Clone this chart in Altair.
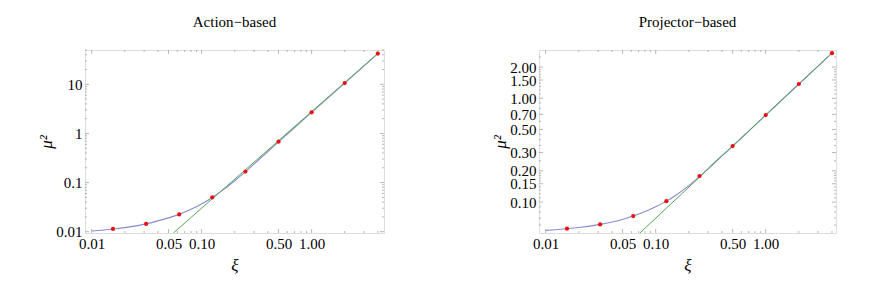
import altair as alt
import pandas as pd

# ---------------- data ----------------
xi_points = [1/64, 1/32, 1/16, 1/8, 1/4, 1/2, 1, 2, 4]
mu2_action_points = [0.01135, 0.0144, 0.0225, 0.050, 0.1675, 0.678, 2.69, 10.6, 42.4]
mu2_projector_points = [0.0553, 0.0609, 0.0733, 0.102, 0.178, 0.346, 0.690, 1.373, 2.72]

xi_curve = [0.01, 0.0156, 0.02, 0.03125, 0.04, 0.05, 0.0625, 0.08, 0.1, 0.125,
            0.15, 0.2, 0.25, 0.35, 0.5, 0.7, 1, 2, 4]
mu2_action_curve = [0.0103, 0.01135, 0.0121, 0.0144, 0.0166, 0.0191, 0.0225, 0.0285,
                    0.0365, 0.0495, 0.066, 0.109, 0.167, 0.328, 0.675, 1.32, 2.69, 10.6, 42.4]
mu2_projector_curve = [0.0533, 0.0553, 0.0568, 0.0609, 0.0642, 0.068, 0.0733, 0.081,
                       0.090, 0.102, 0.115, 0.144, 0.176, 0.246, 0.346, 0.483, 0.690, 1.373, 2.72]

xi_asym_action = [0.0553, 4]
mu2_asym_action = [0.0094, 42.4]
xi_asym_projector = [0.0718, 4]
mu2_asym_projector = [0.0503, 2.73]

x_major = [0.01, 0.05, 0.1, 0.5, 1.0]
x_minor = [0.02, 0.03, 0.04, 0.06, 0.07, 0.08, 0.09, 0.2, 0.3, 0.4, 0.6, 0.7, 0.8, 0.9, 2, 3, 4]

y_major_action = [0.01, 0.1, 1, 10]
y_minor_action = [0.02, 0.03, 0.04, 0.05, 0.06, 0.07, 0.08, 0.09,
                  0.2, 0.3, 0.4, 0.5, 0.6, 0.7, 0.8, 0.9,
                  2, 3, 4, 5, 6, 7, 8, 9, 20, 30, 40, 50]
y_major_projector = [0.1, 0.15, 0.2, 0.3, 0.5, 0.7, 1.0, 1.5, 2.0]
y_minor_projector = [0.06, 0.07, 0.08, 0.09, 0.11, 0.12, 0.13, 0.14, 0.16, 0.17, 0.18, 0.19,
                     0.25, 0.35, 0.4, 0.45, 0.6, 0.8, 0.9,
                     1.1, 1.2, 1.3, 1.4, 1.6, 1.7, 1.8, 1.9, 2.5]

FONT = "Liberation Serif"
FRAME = "#c4c4c4"
TICK = "#9a9a9a"
BLUE = "#8a8ad2"
GREEN = "#55a855"
RED = "#ee1111"
H = 183


def panel(title, mu_curve, xa, ya, mu_pts, xdom, ydom, ymaj, ymin, yfmt, width):
    xs = alt.Scale(type="log", domain=xdom, nice=False)
    ys = alt.Scale(type="log", domain=ydom, nice=False)
    curve = pd.DataFrame({"xi": xi_curve, "mu2": mu_curve})
    asym = pd.DataFrame({"xi": xa, "mu2": ya})
    pts = pd.DataFrame({"xi": xi_points, "mu2": mu_pts})

    x_enc = alt.X("xi:Q", scale=xs,
                  axis=alt.Axis(values=x_major, format=".2f", ticks=False, domain=False,
                                grid=False, labelFont=FONT, labelFontSize=15,
                                labelColor="black", labelPadding=3, labelFlush=False,
                                labelOverlap=False,
                                title="ξ", titleFont=FONT, titleFontSize=17,
                                titleFontStyle="italic", titleFontWeight="normal",
                                titleColor="black", titlePadding=6))
    y_enc = alt.Y("mu2:Q", scale=ys,
                  axis=alt.Axis(values=ymaj, format=yfmt, ticks=False, domain=False,
                                grid=False, labelFont=FONT, labelFontSize=15,
                                labelColor="black", labelPadding=3, labelFlush=False,
                                labelOverlap=False,
                                title="μ²", titleFont=FONT, titleFontSize=17,
                                titleFontStyle="italic", titleFontWeight="normal",
                                titleColor="black", titlePadding=0))

    layers = []

    def xticks(vals, ln):
        d = pd.DataFrame({"xi": vals})
        b = alt.Chart(d).mark_rule(color=TICK, strokeWidth=0.7).encode(
            x=alt.X("xi:Q", scale=xs), y=alt.value(H), y2=alt.value(H - ln))
        t = alt.Chart(d).mark_rule(color=TICK, strokeWidth=0.7).encode(
            x=alt.X("xi:Q", scale=xs), y=alt.value(0), y2=alt.value(ln))
        return [b, t]

    def yticks(vals, ln):
        d = pd.DataFrame({"mu2": vals})
        l = alt.Chart(d).mark_rule(color=TICK, strokeWidth=0.7).encode(
            y=alt.Y("mu2:Q", scale=ys), x=alt.value(0), x2=alt.value(ln))
        r = alt.Chart(d).mark_rule(color=TICK, strokeWidth=0.7).encode(
            y=alt.Y("mu2:Q", scale=ys), x=alt.value(width), x2=alt.value(width - ln))
        return [l, r]

    base_line = alt.Chart(curve).mark_line(color=BLUE, strokeWidth=1.1, interpolate="monotone",
                                           clip=True).encode(x=x_enc, y=y_enc)
    layers.append(base_line)
    layers += xticks(x_major, 4) + xticks(x_minor, 2)
    layers += yticks(ymaj, 4) + yticks(ymin, 2)
    layers.append(alt.Chart(asym).mark_line(color=GREEN, strokeWidth=1.0, clip=True).encode(
        x=alt.X("xi:Q", scale=xs), y=alt.Y("mu2:Q", scale=ys)))
    layers.append(alt.Chart(pts).mark_circle(color=RED, opacity=1, size=18).encode(
        x=alt.X("xi:Q", scale=xs), y=alt.Y("mu2:Q", scale=ys)))

    return alt.layer(*layers).properties(
        width=width, height=H,
        title=alt.TitleParams(title, font=FONT, fontSize=15, fontWeight="normal",
                              color="black", offset=20, anchor="middle"))


left = panel("Action\u2212based", mu2_action_curve, xi_asym_action, mu2_asym_action,
             mu2_action_points, [0.0087, 4.55], [0.0094, 50], y_major_action,
             y_minor_action, "~g", 299)
right = panel("Projector\u2212based", mu2_projector_curve, xi_asym_projector, mu2_asym_projector,
              mu2_projector_points, [0.0087, 4.35], [0.0503, 2.92], y_major_projector,
              y_minor_projector, ".2f", 297)

chart = alt.hconcat(left, right, spacing=106).properties(
    padding={"left": 29, "top": 6, "right": 5, "bottom": 5}
).configure_view(stroke=FRAME, strokeWidth=1).configure(background="white")

chart.save("out.html", embed_options={"renderer": "svg", "actions": False})
